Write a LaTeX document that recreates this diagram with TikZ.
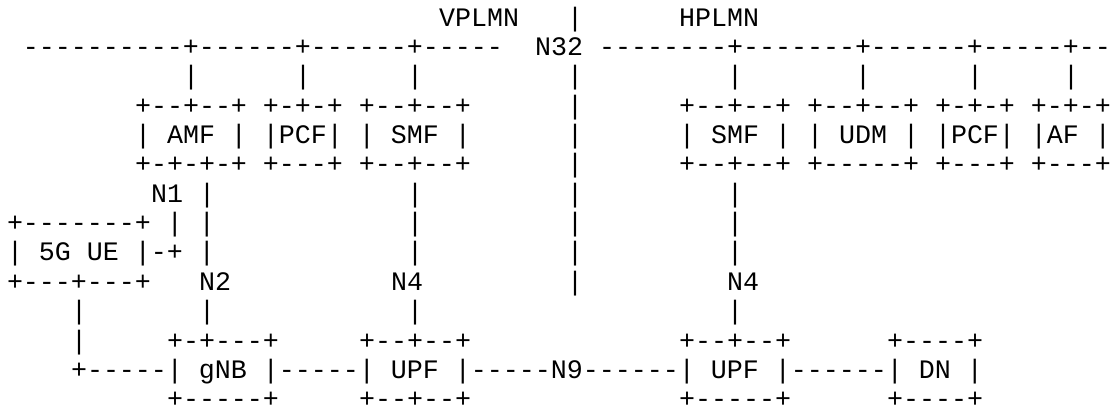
\documentclass[tikz,border=0pt]{standalone}
\usepackage{fontspec}
\setmonofont{Liberation Mono}
\tikzset{ascii/.style={inner sep=0pt, outer sep=0pt, anchor=base west,
  font=\ttfamily\fontsize{13.333pt}{14pt}\selectfont, text=black}}
\begin{document}
\begin{tikzpicture}
\useasboundingbox (0,0) rectangle (557pt,204.5pt);
\begin{scope}[shift={(3.5pt,206.1pt)}, x=8pt, y=-14.675pt]
% line 1
\node[ascii] (l1a) at (27,1) {VPLMN};
\node[ascii] (l1b) at (35,1) {|};
\node[ascii] (l1c) at (42,1) {HPLMN};
% line 2
\node[ascii] (l2a) at (1,2) {----------+------+------+-----};
\node[ascii] (l2b) at (33,2) {N32};
\node[ascii] (l2c) at (37,2) {--------+-------+------+-----+--};
% line 3
\foreach \c [count=\k] in {11,18,25,35,45,53,60,66}
  \node[ascii] (l3-\k) at (\c,3) {|};
% line 4
\node[ascii] (l4a) at (8,4) {+--+--+ +-+-+ +--+--+};
\node[ascii] (l4b) at (35,4) {|};
\node[ascii] (l4c) at (42,4) {+--+--+ +--+--+ +-+-+ +-+-+};
% line 5
\node[ascii] (l5a) at (8,5) {| AMF | |PCF| | SMF |};
\node[ascii] (l5b) at (35,5) {|};
\node[ascii] (l5c) at (42,5) {| SMF | | UDM | |PCF| |AF |};
% line 6
\node[ascii] (l6a) at (8,6) {+-+-+-+ +---+ +--+--+};
\node[ascii] (l6b) at (35,6) {|};
\node[ascii] (l6c) at (42,6) {+--+--+ +-----+ +---+ +---+};
% line 7
\node[ascii] (l7a) at (9,7) {N1 |};
\node[ascii] (l7b) at (25,7) {|};
\node[ascii] (l7c) at (35,7) {|};
\node[ascii] (l7d) at (45,7) {|};
% line 8
\node[ascii] (l8a) at (0,8) {+-------+ | |};
\node[ascii] (l8b) at (25,8) {|};
\node[ascii] (l8c) at (35,8) {|};
\node[ascii] (l8d) at (45,8) {|};
% line 9
\node[ascii] (l9a) at (0,9) {| 5G UE |-+ |};
\node[ascii] (l9b) at (25,9) {|};
\node[ascii] (l9c) at (35,9) {|};
\node[ascii] (l9d) at (45,9) {|};
% line 10
\node[ascii] (l10a) at (0,10) {+---+---+};
\node[ascii] (l10b) at (12,10) {N2};
\node[ascii] (l10c) at (24,10) {N4};
\node[ascii] (l10d) at (35,10) {|};
\node[ascii] (l10e) at (45,10) {N4};
% line 11
\foreach \c [count=\k] in {4,12,25,45}
  \node[ascii] (l11-\k) at (\c,11) {|};
% line 12
\node[ascii] (l12a) at (4,12) {|};
\node[ascii] (l12b) at (10,12) {+-+---+};
\node[ascii] (l12c) at (22,12) {+--+--+};
\node[ascii] (l12d) at (42,12) {+--+--+};
\node[ascii] (l12e) at (55,12) {+----+};
% line 13
\node[ascii] (l13a) at (4,13) {+-----| gNB |-----| UPF |-----N9------| UPF |------| DN |};
% line 14
\node[ascii] (l14a) at (10,14) {+-----+};
\node[ascii] (l14b) at (22,14) {+--+--+};
\node[ascii] (l14c) at (42,14) {+-----+};
\node[ascii] (l14d) at (55,14) {+----+};
\end{scope}
\end{tikzpicture}
\end{document}
